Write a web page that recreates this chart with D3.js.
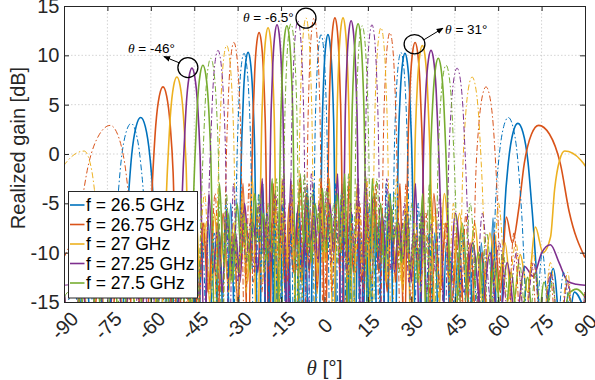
<!DOCTYPE html>
<html lang="en">
  <head>
    <meta charset="utf-8">
    <title>Realized gain vs theta</title>
    <script src="https://d3js.org/d3.v7.min.js"></script>
    <style>
      body { margin: 0; background: white; }
      svg { font-family: "Liberation Sans", Arial, sans-serif; }
    </style>
  </head>
  <body>
    <script>
    // ticks and legend
    const thetaTicks = [-90, -75, -60, -45, -30, -15, 0, 15, 30, 45, 60, 75, 90];
    const gainTicks = [-15, -10, -5, 0, 5, 10, 15];
    const freqLabels = ["f = 26.5 GHz", "f = 26.75 GHz", "f = 27 GHz", "f = 27.25 GHz", "f = 27.5 GHz"];

    // main lobes of the solid curves: [theta, peak dB, left width, right width] (deg)
    // the dash-dot curves are the mirror image (theta -> -theta)
    const lobes265  = [[-63.5, 3.7, 6.3, 6.3], [-26.4, 10.3, 3.1, 3.1], [1.2, 12.1, 2.8, 2.8], [27.8, 10.2, 3.2, 3.2], [66.8, 3.1, 6.5, 7]];
    const lobes2675 = [[-55.8, 6.8, 5, 5], [-22.6, 12.3, 3, 3], [3.6, 13.8, 2.8, 2.8], [31.3, 11.3, 3.3, 3.3], [74, 2.9, 10, 15]];
    const lobes27   = [[-51, 7.8, 4.5, 4.5], [-19.5, 12.8, 3, 3], [6.4, 13.8, 2.8, 2.8], [33.8, 11, 3.4, 3.4], [83, 0.3, 7, 22]];
    const lobes2725 = [[-45.8, 8.7, 4, 4], [-16.4, 13.1, 2.9, 2.9], [9.2, 13.5, 2.8, 2.8], [36.8, 10.5, 3.5, 3.5]];
    const lobes275  = [[-42, 9, 3.8, 3.8], [-13, 13, 2.9, 2.9], [11.6, 13.2, 2.9, 2.9], [39.3, 9.7, 3.6, 3.6]];

    // main lobe profile: [fraction of width, dB below peak]
    const lobeShape = [[0.7, -8.7], [0.5, -3.9], [0.25, -0.9], [0, 0]];

    // side-lobe ripple (dB, nulls and peaks in turn), one list per gap, left to right
    const side265 = [
      [-14, -20, -12, -24, -10, -25],
      [-25, -10, -25, -9, -22, -8, -25, -10, -23, -7, -25, -8, -25, -5, -25],
      [-25, -3, -25, -7, -25, -5, -22, -8, -25, -6, -25, -7, -25, -3, -25],
      [-25, -3, -25, -6, -25, -8, -25, -5, -22, -7, -25, -6, -25, -4, -25],
      [-25, -5, -25, -8, -25, -9, -22, -10, -25, -11, -25, -9, -25, -6.5, -25],
      [-18, -11.6, -22, -14, -16]
    ];
    const side2675 = [
      [-14, -22, -13, -20, -12, -24, -11, -22, -8, -24],
      [-22, -6, -15, -8, -17, -7, -14, -9, -16, -6, -13, -8, -15, -3, -20],
      [-20, -3, -13, -6, -14, -5, -12, -7, -13, -6, -12, -5, -14, -2.5, -20],
      [-20, -2.5, -12, -5, -13, -6, -11, -4, -12, -7, -14, -6, -13, -3, -20],
      [-20, -4, -14, -7, -15, -8, -16, -9, -17, -10, -18, -8, -14, -6.4, -9],
      [-10.5]
    ];
    const side27 = [
      [-14, -22, -12, -18, -11, -19, -10, -17, -9, -15, -5, -20],
      [-20, -5, -13, -7, -15, -6, -12, -8, -14, -7, -12, -5, -13, -2.5, -20],
      [-20, -2.5, -12, -5, -11, -7, -13, -4, -10, -6, -12, -5, -11, -2.5, -20],
      [-20, -3, -11, -6, -12, -4, -10, -7, -13, -5, -11, -8, -14, -4, -20],
      [-20, -4, -13, -6, -14, -7, -15, -8, -14, -9, -16, -10.2, -14, -7.4, -10],
      []
    ];
    const side2725 = [
      [-14, -20, -13, -18, -12, -19, -11, -17, -10, -16, -9, -15, -6, -20],
      [-20, -4, -12, -7, -14, -6, -11, -8, -13, -5, -10, -7, -12, -2.5, -20],
      [-20, -2.5, -10, -5, -12, -4, -9, -6, -11, -3.5, -9, -5, -10, -2, -20],
      [-20, -2, -9, -4, -11, -6, -10, -5, -12, -7, -11, -6, -13, -3, -20],
      [-20, -6, -14, -9, -16, -10, -18, -11, -17, -11.4, -12.4, -10, -9.2, -11, -12.9, -13.2, -13.3]
    ];
    const side275 = [
      [-15, -22, -14, -21, -13, -20, -12, -19, -11, -18, -10, -17, -8, -16, -5, -20],
      [-20, -3, -11, -6, -13, -5, -10, -7, -12, -4, -9, -6, -11, -2.5, -20],
      [-20, -2, -9, -4, -11, -5, -8, -3.5, -10, -6, -9, -4, -10, -2, -20],
      [-20, -2.5, -10, -5, -12, -4, -9, -7, -11, -6, -12, -8, -13, -4, -20],
      [-20, -7, -16, -10, -18, -11, -19, -12, -20, -12.5, -21, -13, -17, -19, -14.2, -13.7, -14.5]
    ];

    const allLobes = [lobes265, lobes2675, lobes27, lobes2725, lobes275];
    const allSides = [side265, side2675, side27, side2725, side275];
    const colors = ["#0072BD", "#D95319", "#EDB120", "#7E2F8E", "#77AC30"];

    // annotations: circle centre in data units, text/arrow offsets in px
    const notes = [
      {label: "-46°", t: -47.2, g: 8.76, rx: 10, ry: 10, tx: -60, ty: -15, arrow: [-8, -4.5, -24, -11]},
      {label: "-6.5°", t: -6.4, g: 13.77, rx: 10, ry: 10, tx: -63, ty: 3.5, arrow: null},
      {label: "31°", t: 31.1, g: 11.13, rx: 10.4, ry: 9.6, tx: 30.5, ty: -10, arrow: [9.5, -4.5, 28.5, -16]}
    ];

    const w = 595, h = 380;
    const margin = {top: 6, right: 10, bottom: 78, left: 64};
    const innerWidth = w - margin.left - margin.right;
    const innerHeight = h - margin.top - margin.bottom;

    const x = d3.scaleLinear().domain([-90, 90]).range([0, innerWidth]);
    const y = d3.scaleLinear().domain([-15, 15]).range([innerHeight, 0]);

    // turn lobes + ripple lists into one [theta, dB] series
    function buildCurve(lobes, gaps) {
      const pts = [];
      const n = lobes.length;
      const edges = lobes.map(l => [l[0] - 0.7 * l[2], l[0] + 0.7 * l[3]]);
      gaps.forEach((vals, g) => {
        const a = g === 0 ? -90 : edges[g - 1][1];
        const b = g === n ? 90 : edges[g][0];
        const k = vals.length;
        vals.forEach((v, i) => {
          let t;
          if (g === 0) t = a + i * (b - a) / k;
          else if (g === n) t = a + (i + 1) * (b - a) / k;
          else t = a + (i + 1) * (b - a) / (k + 1);
          pts.push([t, v]);
        });
        if (g < n) {
          const [c, p, wl, wr] = lobes[g];
          lobeShape.forEach(s => pts.push([c - s[0] * wl, p + s[1]]));
          lobeShape.slice(0, 3).reverse().forEach(s => pts.push([c + s[0] * wr, p + s[1]]));
        }
      });
      return pts;
    }

    const svg = d3.select("body").append("svg")
                  .attr("width", w)
                  .attr("height", h);

    svg.append("rect").attr("width", w).attr("height", h).attr("fill", "white");

    const plot = svg.append("g")
                    .attr("transform", `translate(${margin.left}, ${margin.top})`);

    svg.append("defs").append("clipPath").attr("id", "clip")
       .append("rect").attr("width", innerWidth).attr("height", innerHeight);

    svg.select("defs").append("marker")
       .attr("id", "arrow")
       .attr("viewBox", "0 0 10 10")
       .attr("refX", 9).attr("refY", 5)
       .attr("markerWidth", 7).attr("markerHeight", 7)
       .attr("markerUnits", "userSpaceOnUse")
       .attr("orient", "auto")
       .append("path").attr("d", "M0,1 L10,5 L0,9 Z").attr("fill", "black");

    // grid
    const grid = plot.append("g");
    grid.selectAll(".gx").data(thetaTicks.slice(1, -1)).enter().append("line")
        .attr("x1", d => x(d)).attr("x2", d => x(d))
        .attr("y1", 0).attr("y2", innerHeight);
    grid.selectAll(".gy").data(gainTicks.slice(1, -1)).enter().append("line")
        .attr("x1", 0).attr("x2", innerWidth)
        .attr("y1", d => y(d)).attr("y2", d => y(d));
    grid.selectAll("line")
        .attr("stroke", "#c9c9c9")
        .attr("stroke-width", 0.8)
        .attr("stroke-dasharray", "1.5,2");

    // curves
    const line = d3.line()
                   .x(d => x(d[0]))
                   .y(d => y(d[1]))
                   .curve(d3.curveMonotoneX);

    const curves = plot.append("g").attr("clip-path", "url(#clip)");

    const solid = allLobes.map((l, i) => buildCurve(l, allSides[i]));
    const mirrored = solid.map(pts => pts.map(p => [-p[0], p[1]]).reverse());

    solid.forEach((pts, i) => {
      curves.append("path")
            .attr("d", line(pts))
            .attr("fill", "none")
            .attr("stroke", colors[i])
            .attr("stroke-width", 1.6)
            .attr("stroke-linejoin", "round");
    });
    mirrored.forEach((pts, i) => {
      curves.append("path")
            .attr("d", line(pts))
            .attr("fill", "none")
            .attr("stroke", colors[i])
            .attr("stroke-width", 1)
            .attr("stroke-dasharray", "6,2.5,1.5,2.5");
    });

    // axes (box with inward ticks)
    const axisColor = "#262626";
    const plain = d => String(d);   // hyphen minus like the original
    const xAxis = plot.append("g")
                      .attr("transform", `translate(0, ${innerHeight})`)
                      .call(d3.axisBottom(x).tickValues(thetaTicks).tickSize(-5).tickSizeOuter(0).tickFormat(plain));
    xAxis.selectAll("text")
         .attr("y", 0)
         .attr("dy", "0.35em")
         .attr("text-anchor", "middle")
         .attr("transform", "translate(0, 23.5) rotate(-45)");

    plot.append("g")
        .call(d3.axisLeft(y).tickValues(gainTicks).tickSize(-5).tickSizeOuter(0).tickPadding(4.5).tickFormat(plain));

    const topAxis = plot.append("g")
        .call(d3.axisTop(x).tickValues(thetaTicks).tickSize(-5).tickSizeOuter(0));
    topAxis.selectAll("text").remove();
    const rightAxis = plot.append("g")
        .attr("transform", `translate(${innerWidth}, 0)`)
        .call(d3.axisRight(y).tickValues(gainTicks).tickSize(-5).tickSizeOuter(0));
    rightAxis.selectAll("text").remove();

    plot.selectAll(".domain, .tick line")
        .attr("stroke", axisColor)
        .attr("stroke-width", 1);
    plot.selectAll(".tick text")
        .attr("fill", axisColor)
        .style("font-size", "20px")
        .style("font-family", "Liberation Sans, Arial, sans-serif");

    // axis labels
    svg.append("text")
       .attr("transform", `translate(25, 148) rotate(-90)`)
       .attr("text-anchor", "middle")
       .attr("fill", axisColor)
       .style("font-size", "20px")
       .text("Realized gain [dB]");

    const xl = svg.append("text")
                  .attr("x", margin.left + x(0))
                  .attr("y", 375)
                  .attr("text-anchor", "middle")
                  .attr("fill", axisColor)
                  .style("font-size", "21px");
    xl.append("tspan").style("font-family", "Liberation Serif, serif").style("font-style", "italic").text("θ");
    xl.append("tspan").text(" [°]");

    // annotations
    notes.forEach(n => {
      const cx = x(n.t), cy = y(n.g);
      plot.append("ellipse")
          .attr("cx", cx).attr("cy", cy)
          .attr("rx", n.rx).attr("ry", n.ry)
          .attr("fill", "none")
          .attr("stroke", "black")
          .attr("stroke-width", 1.3);
      if (n.arrow) {
        plot.append("line")
            .attr("x1", cx + n.arrow[0]).attr("y1", cy + n.arrow[1])
            .attr("x2", cx + n.arrow[2]).attr("y2", cy + n.arrow[3])
            .attr("stroke", "black")
            .attr("stroke-width", 1)
            .attr("marker-end", "url(#arrow)");
      }
      const t = plot.append("text")
                    .attr("x", cx + n.tx)
                    .attr("y", cy + n.ty)
                    .attr("fill", "black")
                    .style("font-size", "13.5px");
      t.append("tspan").style("font-family", "Liberation Serif, serif").style("font-style", "italic").text("θ");
      t.append("tspan").text(" = " + n.label);
    });

    // legend
    const legend = svg.append("g");
    legend.append("rect")
          .attr("x", 68.5).attr("y", 191.5)
          .attr("width", 129).attr("height", 106.5)
          .attr("fill", "white")
          .attr("stroke", axisColor)
          .attr("stroke-width", 1);
    const items = legend.selectAll(".item").data(freqLabels).enter().append("g")
                        .attr("transform", (d, i) => `translate(0, ${205 + i * 19.5})`);
    items.append("line")
         .attr("x1", 70).attr("x2", 84.5)
         .attr("y1", 0).attr("y2", 0)
         .attr("stroke", (d, i) => colors[i])
         .attr("stroke-width", 1.6);
    items.append("text")
         .attr("x", 86)
         .attr("dy", "0.35em")
         .attr("fill", "black")
         .style("font-size", "17.5px")
         .text(d => d);
    </script>
  </body>
</html>
